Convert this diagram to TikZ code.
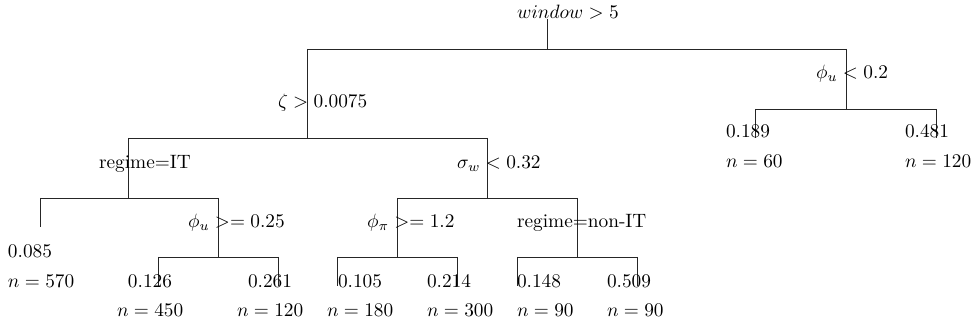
\documentclass[tikz,border=0pt]{standalone}
\begin{document}
\begin{tikzpicture}[x=0.5176pt,y=-0.5176pt,
  edge/.style={draw=black!85, line width=0.45pt},
  lbl/.style={anchor=base west, inner sep=0pt, outer sep=0pt}]
\useasboundingbox (0,0) rectangle (971,327);
% node positions
\coordinate (r)  at (547,19);
\coordinate (nA) at (307,49);
\coordinate (nB) at (846,49);
\coordinate (nC) at (128,138);
\coordinate (nD) at (487,138);
\coordinate (nE) at (755,109);
\coordinate (nF) at (936,109);
\coordinate (nG) at (40,198);
\coordinate (nH) at (218,198);
\coordinate (nI) at (397,198);
\coordinate (nJ) at (577,198);
\coordinate (nK) at (158,257);
\coordinate (nL) at (278,257);
\coordinate (nM) at (337,257);
\coordinate (nN) at (457,257);
\coordinate (nO) at (517,257);
\coordinate (nP) at (637,257);
% splits
\draw[edge] (r) -- (r|-nA);   \draw[edge] (nA) -- (nB);
\draw[edge] (nA) -- (nA|-nC); \draw[edge] (nC) -- (nD);
\draw[edge] (nB) -- (nB|-nE); \draw[edge] (nE) -- (nF);
\draw[edge] (nC) -- (nC|-nG); \draw[edge] (nG) -- (nH);
\draw[edge] (nD) -- (nD|-nI); \draw[edge] (nI) -- (nJ);
\draw[edge] (nH) -- (nH|-nK); \draw[edge] (nK) -- (nL);
\draw[edge] (nI) -- (nI|-nM); \draw[edge] (nM) -- (nN);
\draw[edge] (nJ) -- (nJ|-nO); \draw[edge] (nO) -- (nP);
% leaves
\foreach \lf in {nE,nF,nG,nK,nL,nM,nN,nO,nP}
  \draw[edge] (\lf) -- ++(0,29);
% split labels
\node[lbl] (tr) at (517,19)  {$window > 5$};
\node[lbl] (tA) at (278,108) {$\zeta > 0.0075$};
\node[lbl] (tB) at (816,79)  {$\phi_u < 0.2$};
\node[lbl] (tC) at (99,169)  {regime=IT};
\node[lbl] (tD) at (457,169) {$\sigma_w < 0.32$};
\node[lbl] (tH) at (188,228) {$\phi_u >= 0.25$};
\node[lbl] (tI) at (367,228) {$\phi_\pi >= 1.2$};
\node[lbl] (tJ) at (517,228) {regime=non-IT};
% leaf labels
\node[lbl] (vG) at (8,258)   {0.085}; \node[lbl] (cG) at (8,288)   {$n = 570$};
\node[lbl] (vK) at (128,288) {0.126}; \node[lbl] (cK) at (117,317) {$n = 450$};
\node[lbl] (vL) at (248,288) {0.261}; \node[lbl] (cL) at (237,317) {$n = 120$};
\node[lbl] (vM) at (338,288) {0.105}; \node[lbl] (cM) at (327,317) {$n = 180$};
\node[lbl] (vN) at (427,288) {0.214}; \node[lbl] (cN) at (427,317) {$n = 300$};
\node[lbl] (vO) at (517,288) {0.148}; \node[lbl] (cO) at (517,317) {$n = 90$};
\node[lbl] (vP) at (607,288) {0.509}; \node[lbl] (cP) at (607,317) {$n = 90$};
\node[lbl] (vE) at (726,138) {0.189}; \node[lbl] (cE) at (726,168) {$n = 60$};
\node[lbl] (vF) at (905,138) {0.481}; \node[lbl] (cF) at (905,168) {$n = 120$};
\end{tikzpicture}
\end{document}
